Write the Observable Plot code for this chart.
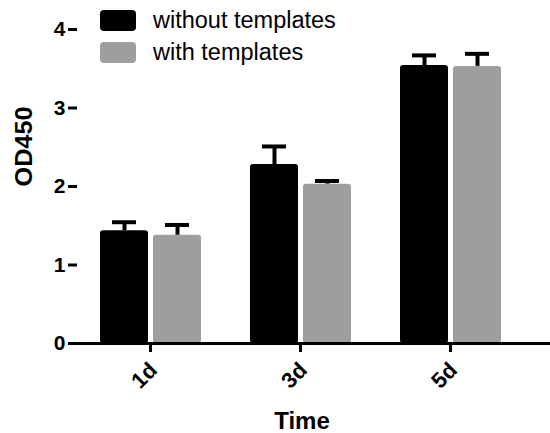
<!DOCTYPE html>
<html><head><meta charset="utf-8">
<script src="https://cdn.jsdelivr.net/npm/d3@7"></script>
<script src="https://cdn.jsdelivr.net/npm/@observablehq/plot@0.6"></script>
<style>
body{margin:0;background:#fff;}
#chart{position:relative;width:550px;height:433px;font-family:"Liberation Sans",Arial,Helvetica,sans-serif;}
#legend{position:absolute;left:100px;top:5px;}
.item{display:flex;align-items:center;height:31.5px;font-size:23.5px;color:#000;}
.sw{width:36px;height:21px;border-radius:4px;margin-right:17px;}
svg text{font-family:"Liberation Sans",Arial,Helvetica,sans-serif;}
[aria-label="y-axis tick label"] text{font-size:21px;font-weight:bold;}
[aria-label="x-axis tick label"] text{font-size:22px;font-weight:bold;}
</style></head><body><div id="chart"><div id="legend"></div></div>
<script>
const days = ["1d", "3d", "5d"];
const series = ["without templates", "with templates"];
const colors = ["#000000", "#9e9e9e"];
const withoutMean = [1.435, 2.28, 3.54];
const withoutErr = [0.11, 0.23, 0.13];
const withMean = [1.38, 2.03, 3.53];
const withErr = [0.13, 0.04, 0.16];
const yTicks = [0, 1, 2, 3, 4];
const xTitle = "Time";
const yTitle = "OD450";

const dataWithout = days.map((d, i) => ({day: d, series: series[0], value: withoutMean[i], err: withoutErr[i]}));
const dataWith = days.map((d, i) => ({day: d, series: series[1], value: withMean[i], err: withErr[i]}));

const chart = Plot.plot({
  width: 550,
  height: 433,
  marginLeft: 77,
  marginRight: 0,
  marginTop: 29,
  marginBottom: 90,
  style: {background: "#fff", color: "#000"},
  x: {domain: days, range: [75, 525], padding: 0},
  y: {domain: [0, 4], range: [343, 29]},
  color: {domain: series, range: colors},
  marks: [
    Plot.barY(dataWithout, {x: "day", y: "value", fill: "series", insetLeft: 25, insetRight: 77, rx: 3}),
    Plot.barY(dataWith, {x: "day", y: "value", fill: "series", insetLeft: 78, insetRight: 24, rx: 3}),
    Plot.ruleX(dataWithout, {x: "day", y1: "value", y2: d => d.value + d.err, dx: -26, strokeWidth: 4, stroke: "#000"}),
    Plot.ruleX(dataWith, {x: "day", y1: "value", y2: d => d.value + d.err, dx: 27, strokeWidth: 4, stroke: "#000"}),
    Plot.tickY(dataWithout, {x: "day", y: d => d.value + d.err, insetLeft: 37, insetRight: 89, strokeWidth: 4, stroke: "#000"}),
    Plot.tickY(dataWith, {x: "day", y: d => d.value + d.err, insetLeft: 90, insetRight: 36, strokeWidth: 4, stroke: "#000"}),
    Plot.axisY({ticks: yTicks, tickFormat: d => String(d), tickSize: 9, tickPadding: 3, strokeWidth: 3, label: null, line: true}),
    Plot.axisX({tickSize: 9, tickPadding: 4, tickRotate: -45, strokeWidth: 3, label: null}),
    Plot.ruleY([0], {strokeWidth: 3, stroke: "#000"}),
    Plot.text([yTitle], {text: d => d, frameAnchor: "left", rotate: -90, dx: -53, fontSize: 24, fontWeight: "bold", fill: "#000"}),
    Plot.text([xTitle], {text: d => d, frameAnchor: "bottom", lineAnchor: "middle", dx: -12, dy: 78, fontSize: 24, fontWeight: "bold", fill: "#000"})
  ]
});
document.getElementById("chart").appendChild(chart);

// nudge rotated day labels to sit lower, as in the reference
d3.select(chart).selectAll('[aria-label="x-axis tick label"] text').each(function() {
  const t = this.getAttribute("transform") || "";
  this.setAttribute("transform", "translate(3,10) " + t);
});

d3.select(chart).selectAll("text").filter(function() { return this.textContent === yTitle; })
  .attr("textLength", 80).attr("lengthAdjust", "spacingAndGlyphs");

const legend = d3.select("#legend");
series.forEach((s, i) => {
  const row = legend.append("div").attr("class", "item");
  row.append("div").attr("class", "sw").style("background", colors[i]);
  row.append("span").text(s);
});
</script></body></html>
